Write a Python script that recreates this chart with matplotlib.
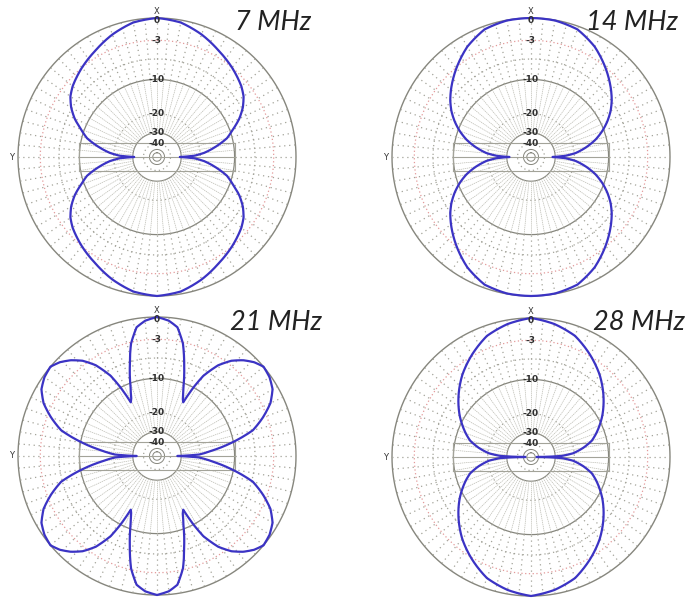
import numpy as np
import matplotlib
matplotlib.use('Agg')
import matplotlib.pyplot as plt
from matplotlib.lines import Line2D

# Azimuth patterns: angle off the X axis (deg) and
# gain (dB), one quadrant each - the patterns are mirror symmetric.
ANGLES_7 = [0, 10, 20, 30, 40, 50, 55, 60, 65, 70, 75, 80, 85, 88, 90]
DB_7 = [0, -0.3, -1.1, -2.1, -3.0, -4.0, -4.7, -5.8, -7.3, -9.3, -11.2, -14.5, -18.5, -22.5, -31]

ANGLES_14 = [0, 10, 20, 30, 40, 50, 55, 60, 65, 70, 75, 80, 85, 88, 90]
DB_14 = [0, -0.05, -0.4, -1.5, -3.1, -4.9, -5.9, -7.1, -8.6, -10.4, -12.6, -15.6, -19.5, -24, -32]

ANGLES_21 = [0, 5, 9, 13, 17, 21, 24, 26, 28, 30, 34, 38, 42, 46, 50, 55, 60, 65, 70, 75, 80, 84, 88, 90]
DB_21 = [0, -0.4, -1.1, -3.2, -6.9, -10.9, -13.5, -14.5, -10.0, -7.0, -4.1, -2.4, -1.3, -0.5, 0,
         -0.2, -0.7, -1.8, -3.6, -5.8, -10.5, -15.3, -20.5, -33]

ANGLES_28 = [0, 10, 20, 30, 40, 50, 60, 65, 70, 75, 80, 85, 88, 90]
DB_28 = [0, -0.5, -1.3, -2.8, -4.5, -6.6, -9.0, -10.4, -11.9, -13.6, -16.5, -20.5, -26, -55]

FREQ_LABELS = ['7 MHz', '14 MHz', '21 MHz', '28 MHz']
RING_DB = [-3, -10, -20, -30, -40]
RING_LABELS = ['-3', '-10', '-20', '-30', '-40']

W, H = 686, 598
R = 139
CENTERS = [(157, 157), (531, 157), (157, 456), (531, 457)]
TITLE_POS = [(311, 22), (678, 23), (322, 322), (685, 323)]

BLUE = '#3b33c4'
GRID = '#a3a399'
DARK = '#86867d'


def arrl(db):
    # ARRL log scale: radius shrinks by 0.89 for every 2 dB
    return 0.89 ** (-np.asarray(db, dtype=float) / 2.0)


def full_pattern(ang, db):
    ang = np.asarray(ang, dtype=float)
    db = np.asarray(db, dtype=float)
    th = np.concatenate([ang, 180 - ang[::-1], 180 + ang, 360 - ang[::-1]])
    g = np.concatenate([db, db[::-1], db, db[::-1]])
    return np.deg2rad(th), g


def draw_grid(ax):
    circ = np.linspace(0, 2 * np.pi, 361)
    dots = (0, (1, 2.5))
    for db, style, col, lw in [(0, '-', DARK, 1.0), (-10, '-', DARK, 0.9),
                               (-30, '-', DARK, 0.8), (-50, '-', DARK, 0.7),
                               (-60, '-', DARK, 0.7),
                               (-6, dots, GRID, 0.9), (-20, dots, GRID, 0.9),
                               (-40, dots, GRID, 0.9),
                               (-3, (0, (1, 2.0)), '#e39a9a', 0.9)]:
        ax.plot(circ, np.full_like(circ, arrl(db)), ls=style, color=col, lw=lw,
                zorder=1, clip_on=False)
    # radials every 5 degrees
    r30, r10 = arrl(-30), arrl(-10)
    for a in np.arange(0, 360, 5):
        t = np.deg2rad(a)
        ax.plot([t, t], [r30, r10], ls=(0, (2, 1)), color='#bdbdb4', lw=0.5, zorder=1)
        ax.plot([t, t], [r10, 1.0], ls=(0, (1, 3)), color=GRID, lw=0.9, zorder=1)
    # small box around the Y axis
    h = 0.05
    x0, x1 = 0.5 - 0.5 * r10, 0.5 + 0.5 * r10
    for xs, ys in [([x0, x1], [0.5 - h, 0.5 - h]), ([x0, x1], [0.5 + h, 0.5 + h]),
                   ([x0, x0], [0.5 - h, 0.5 + h]), ([x1, x1], [0.5 - h, 0.5 + h]),
                   ([x0, x1], [0.5, 0.5])]:
        ax.add_line(Line2D(xs, ys, transform=ax.transAxes, color=GRID, lw=0.8, zorder=1))


fig = plt.figure(figsize=(W / 100, H / 100), dpi=100)
patterns = [(ANGLES_7, DB_7), (ANGLES_14, DB_14), (ANGLES_21, DB_21), (ANGLES_28, DB_28)]

for (cx, cy), (ang, db), label, (tx, ty) in zip(CENTERS, patterns, FREQ_LABELS, TITLE_POS):
    ax = fig.add_axes([(cx - R) / W, 1 - (cy + R) / H, 2 * R / W, 2 * R / H],
                      projection='polar')
    ax.set_theta_zero_location('N')
    ax.set_theta_direction(-1)
    ax.set_ylim(0, 1)
    ax.grid(False)
    ax.set_xticks([])
    ax.set_yticks([])
    ax.spines['polar'].set_visible(False)
    ax.patch.set_alpha(0)

    draw_grid(ax)

    th, g = full_pattern(ang, db)
    line, = ax.plot(th, arrl(g), color=BLUE, lw=1.6, zorder=3, clip_on=False)
    # let the polar transform bend the segments between read points
    line.get_path()._interpolation_steps = 24

    for rdb, rl in zip(RING_DB, RING_LABELS):
        ax.text(0, arrl(rdb), rl, ha='center', va='center', fontsize=6.5,
                fontweight='bold', color='#2e2e2e', zorder=4)
    ax.text(0, 0.985, '0', ha='center', va='center', fontsize=6.5,
            fontweight='bold', color='#2e2e2e', zorder=4)
    ax.text(0, 1.045, 'X', ha='center', va='center', fontsize=6,
            color='#333333', zorder=4, clip_on=False)
    ax.text(np.deg2rad(270), 1.05, 'Y', ha='center', va='center', fontsize=6,
            color='#333333', zorder=4, clip_on=False)

    fig.text(tx / W, 1 - ty / H, label, ha='right', va='center', fontsize=19.5,
             style='italic', family='Lato', color='#222222')

fig.savefig('out.png', dpi=100)
